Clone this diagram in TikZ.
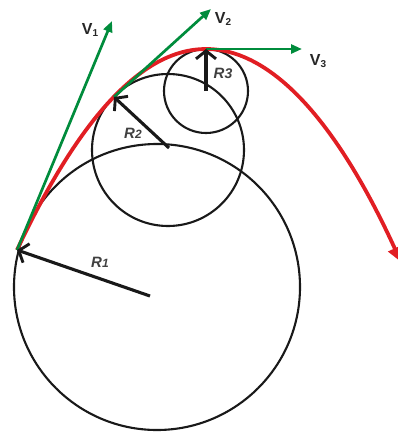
\documentclass[tikz,border=0pt]{standalone}
\usepackage{fontspec}
\setmainfont{Liberation Sans}
\usetikzlibrary{arrows.meta}
\definecolor{vgreen}{RGB}{0,140,60}
\definecolor{tred}{RGB}{225,30,35}
\tikzset{
  circ/.style={draw=black!90, line width=2.1pt},
  rarrow/.style={draw=black!90, line width=3.1pt, -{Straight Barb[length=8pt,width=20pt,line width=2.9pt]}},
  varrow/.style={draw=vgreen, line width=2.7pt, -{Triangle[length=11pt,width=9pt]}},
  traj/.style={draw=tred, line width=3.8pt, -{Triangle[length=15pt,width=14pt]}},
  vlab/.style={font=\bfseries\fontsize{16}{16}\selectfont, text=black!85, inner sep=0pt},
  rlab/.style={font=\bfseries\itshape\fontsize{15}{15}\selectfont, text=black!75, inner sep=0pt}
}
\begin{document}
\begin{tikzpicture}[x=1pt,y=-1pt]
\useasboundingbox (0,0) rectangle (398,432);
% circles
\node[circ, circle, minimum size=286pt, inner sep=0pt] (C1) at (157,287) {};
\node[circ, circle, minimum size=152pt, inner sep=0pt] (C2) at (168,150) {};
\node[circ, circle, minimum size=84pt, inner sep=0pt] (C3) at (206,91) {};
% points on trajectory
\coordinate (P1) at (17,250);
\coordinate (P2) at (114,97);
\coordinate (P3) at (206,49);
\coordinate (E) at (401,262);
% centers (arrow tails)
\coordinate (O1) at (150,296);
\coordinate (O2) at (169,148);
\coordinate (O3) at (206,91);
% velocity tips
\coordinate (T1) at (112,21);
\coordinate (T2) at (211,9);
\coordinate (T3) at (302,49);
% trajectory (parabola)
\draw[traj] (P1) .. controls (80,116) and (143,49) .. (P3)
  .. controls (271,49) and (336,120) .. (E);
% velocities
\draw[varrow] (P1) -- (T1);
\draw[varrow] (P2) -- (T2);
\draw[varrow] (P3) -- (T3);
% radii
\draw[rarrow] (O1) -- (P1);
\draw[rarrow] (O2) -- (P2);
\draw[rarrow] (O3) -- (P3);
% labels
\node[vlab] (L1) at (90,30) {V\raisebox{-2pt}{\fontsize{10}{10}\selectfont 1}};
\node[vlab] (L2) at (223,19) {V\raisebox{-2pt}{\fontsize{10}{10}\selectfont 2}};
\node[vlab] (L3) at (318,61) {V\raisebox{-2pt}{\fontsize{10}{10}\selectfont 3}};
\node[rlab] (R1) at (100,262) {R\fontsize{12}{12}\selectfont 1};
\node[rlab] (R2) at (133,133) {R\fontsize{12}{12}\selectfont 2};
\node[rlab] (R3) at (223,73) {R\fontsize{14}{14}\selectfont 3};
\end{tikzpicture}
\end{document}
